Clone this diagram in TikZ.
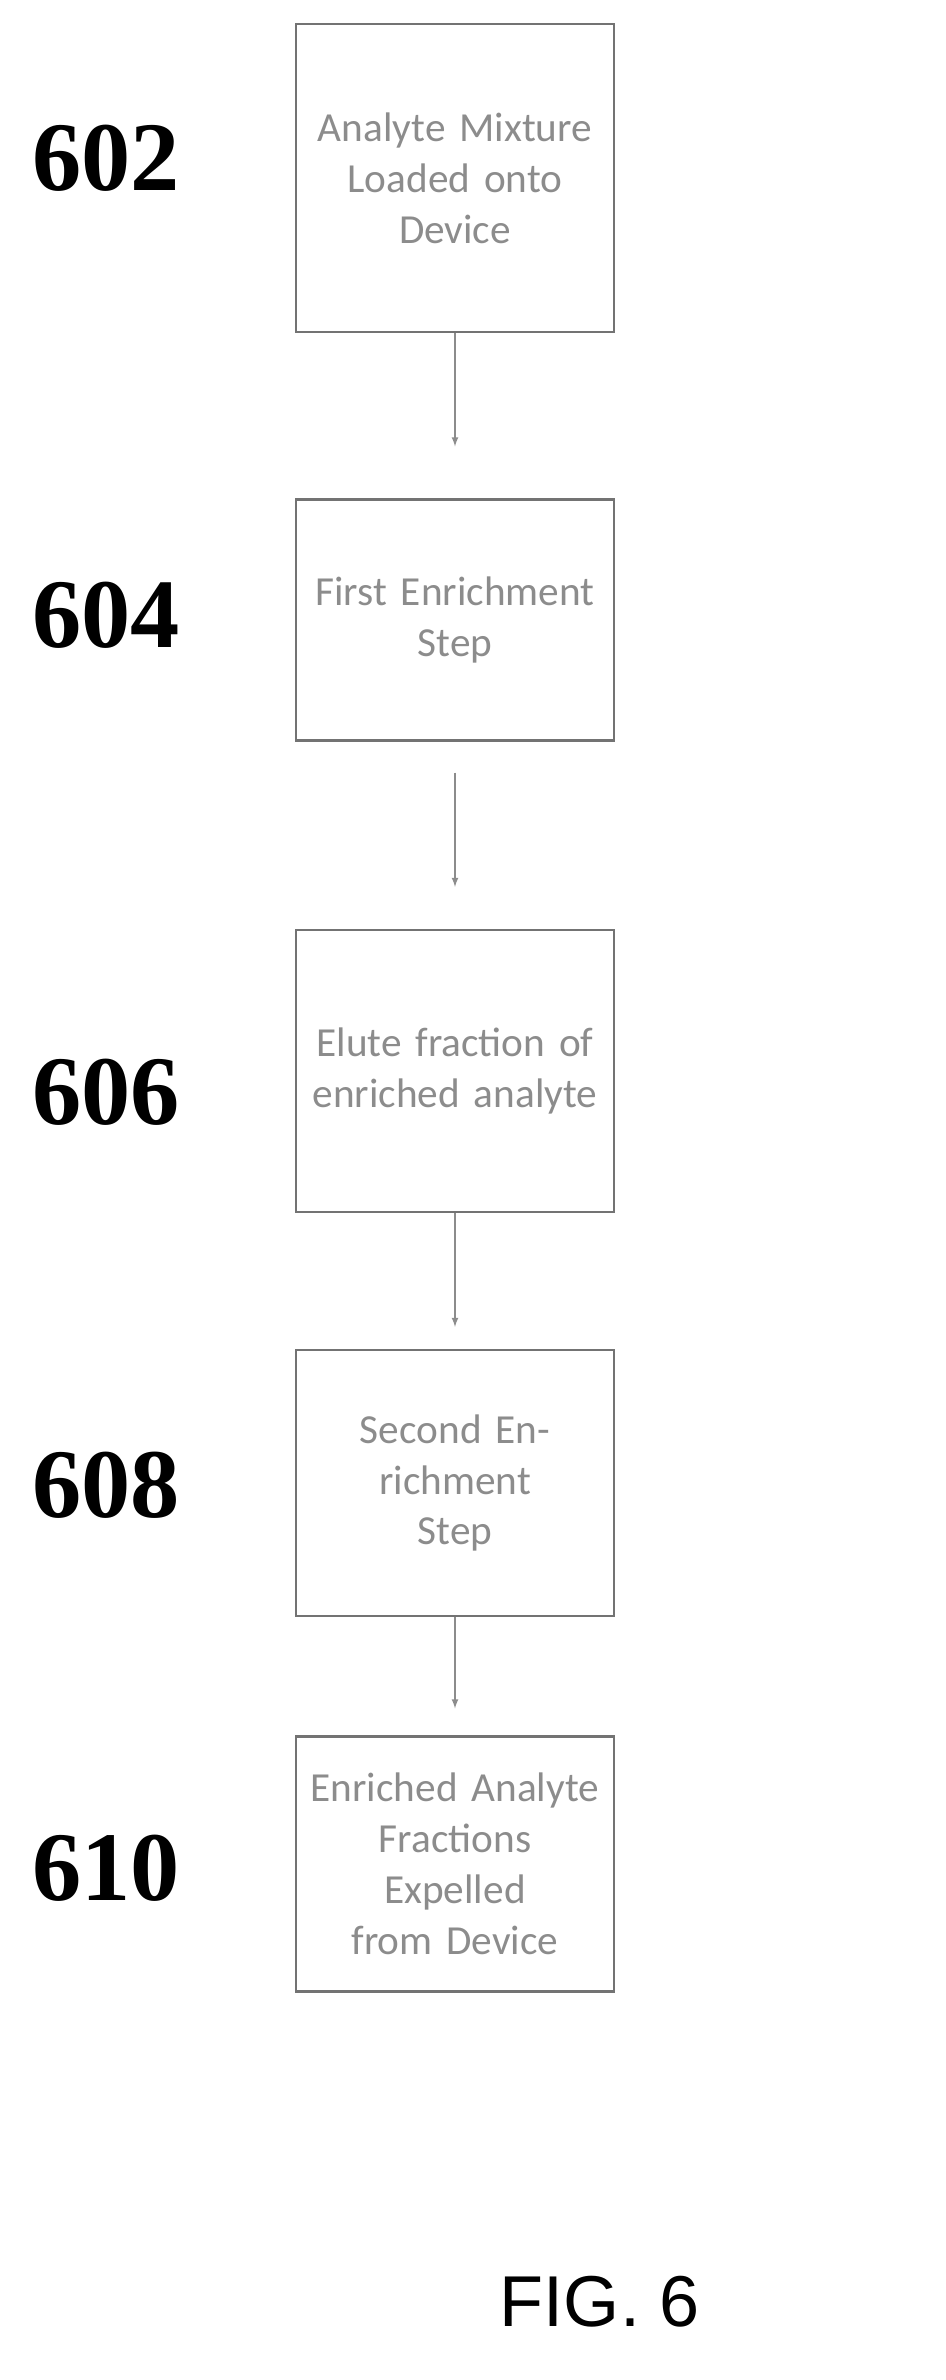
\documentclass[tikz,border=0pt]{standalone}
\usepackage{fontspec}
\setmainfont{Liberation Serif}
\newfontfamily\boxfont{Carlito}
\newfontfamily\figfont{Liberation Sans}
\usetikzlibrary{arrows}

\begin{document}
\begin{tikzpicture}%
        [x={(0.02cm,0cm)},
        y={(0cm,-0.02cm)},
        stage/.style={draw=black!55, line width=1.2pt, text width=300*0.02cm, inner xsep=9*0.02cm, inner ysep=0pt,
                     align=center, text=black!45, font=\boxfont\fontsize{23.5}{29}\selectfont},
        tag/.style={font=\bfseries\fontsize{56}{58}\selectfont},
        flow/.style={draw=black!45, line width=0.8pt, -latex}]

    \useasboundingbox (0,0) rectangle (946,2380);
    %% Steps
    \node[stage, minimum height=308*0.02cm] (s602) at (455,178) {Analyte Mixture\\Loaded onto Device};
    \node[stage, minimum height=241*0.02cm] (s604) at (455,620) {First Enrichment\\Step};
    \node[stage, minimum height=282*0.02cm] (s606) at (455,1071) {Elute fraction of\\enriched analyte};
    \node[stage, minimum height=266*0.02cm] (s608) at (455,1483) {Second Enrichment\\Step};
    \node[stage, minimum height=255*0.02cm] (s610) at (455,1864) {Enriched Analyte\\Fractions Expelled\\from Device};
    %% Reference numerals
    \node[tag] (n602) at (106,158) {602};
    \node[tag] (n604) at (106,615) {604};
    \node[tag] (n606) at (106,1092) {606};
    \node[tag] (n608) at (106,1485) {608};
    \node[tag] (n610) at (106,1868) {610};
    %% Arrows
    \draw[flow, shorten >=52*0.02cm] (s602) -- (s604);
    \draw[flow, shorten <=31*0.02cm, shorten >=42*0.02cm] (s604) -- (s606);
    \draw[flow, shorten >=22*0.02cm] (s606) -- (s608);
    \draw[flow, shorten >=27*0.02cm] (s608) -- (s610);
    %%
    \node[font=\figfont\fontsize{41}{45}\selectfont] (fig) at (600,2302) {FIG. 6};
\end{tikzpicture}
\end{document}
